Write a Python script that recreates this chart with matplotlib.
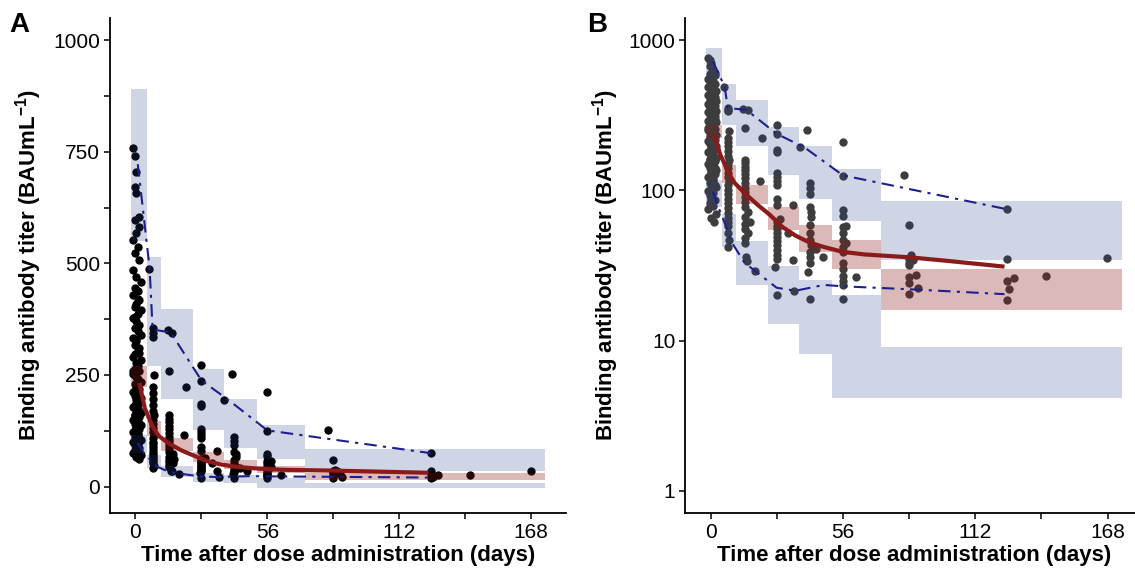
import matplotlib.pyplot as plt
from matplotlib.patches import Rectangle

plt.rcParams['font.family'] = ['Liberation Sans', 'DejaVu Sans']
plt.rcParams['mathtext.fontset'] = 'custom'
plt.rcParams['mathtext.rm'] = 'Liberation Sans'
plt.rcParams['mathtext.bf'] = 'Liberation Sans:bold'

# time bins (days)
bin_lo = [-2, 5, 10.8, 24.5, 37.6, 51.5, 72]
bin_hi = [5, 10.8, 24.5, 37.6, 51.5, 72, 174]

# simulated confidence intervals per bin
p95_lo = [550, 271, 197, 126, 87, 63, 34.3]
p95_hi = [890, 514, 398, 264, 197, 138, 84.9]
p50_lo = [223, 112.5, 80.7, 54.4, 39, 30.2, 15.9]
p50_hi = [271, 147.5, 108, 77.4, 59.3, 47, 30.1]
p05_lo = [77.4, 41.9, 23.6, 12.9, 8.15, 4.15, 4.15]
p05_hi = [116.6, 70, 46.4, 31.6, 25.5, 20, 9.08]
p05_lo_lin = [75, 41.9, 22, 11, 7.6, -3.6, -3.6]   # linear-scale panel

# observed data
obs_t = [
    # bin 1
    -1, -0.3, 0.4, -0.3, 0.4, 1.7, -0.3, 1.7, 0.4, -1, 1, -0.3, 1.7, -1, 0.4, 2.5, -0.3, 1, -1, 1.7,
    0.4, -0.3, 2.5, 1, -1, 0.4, 1.7, -0.3, 1, 2.5, -1, 0.4, -0.3, 1.7, 1, -0.3, -1, 2.5, 0.4, 1,
    -0.3, 1.7, -1, 0.4, 1, 2.5, -0.3, 0.4, 1.7, -1, 1, -0.3, 2.5, 0.4, 1.7, -0.3, -1, 1, 0.4, 2.5,
    -0.3, 1.7, 0.4, -1, 1, -0.3, 2.5, 0.4, 1.7, -0.3, -1, 1, 0.4, -0.3, 1.7, 2.5, 0.4, -1, 1, -0.3,
    0.4, 1.7, -0.3, 1, -1, 2.5, 0.4, 1.3,
    1, -0.3, 0.4, 1.7, -1, 1, 0.4, -0.3, 1.7, 1, -0.3, 0.4,
    # bin 2
    5.9, 7.3, 7.3, 7.3, 7.8, 7.3, 7.3, 7.6, 7.3, 7.3, 7.8, 7.3, 7.3, 7.3, 7.3, 7.8, 7.3,
    7.3, 7.3, 7.3, 7.6, 7.3, 7.3, 7.3, 7.3, 7.3, 7.6, 7.8, 7.3,
    # bin 3
    13.7, 15.7, 14.4, 21.6, 14.4, 14.4, 14.4, 14.4, 14.4, 14.4, 20.8, 14.4, 14.4, 14.4,
    14.4, 14.4, 14.4, 16, 14.4, 16.5, 14.4, 14.4, 16, 14.4, 14.4, 15, 15.5, 18.7,
    # bin 4
    28, 28, 28, 28, 28, 28, 28, 28, 28, 28, 29.5, 28, 28, 28, 28, 28, 28, 28, 28, 28,
    28, 27.3, 28, 34.8, 34.8, 35.5, 37.7, 32.6,
    # bin 5
    41, 41.9, 41.9, 41.9, 41.9, 42.5, 42.5, 41.9, 41.9, 41.9, 42.5, 41.9, 41.9, 41.9,
    41.3, 41.9, 47.4, 44.5,
    # bin 6
    56, 56, 56, 56, 57.5, 56, 56, 56, 56, 56, 56, 56, 56, 56, 56, 56, 61.7, 57.5,
    # bin 7
    81.7, 83.8, 84.9, 84, 85.5, 84, 83.8, 83.8, 86.8, 83.8, 87.7, 83.8,
    125.3, 125.3, 125.3, 128.4, 126.5, 125.3, 142, 167.9,
]
obs_y = [
    # bin 1
    758, 741, 705, 672, 658, 604, 596, 582, 567, 552, 537, 523, 507, 485, 470, 459, 445, 437, 428, 418,
    410, 402, 395, 386, 378, 370, 362, 355, 348, 340, 333, 326, 318, 311, 304, 297, 290, 284, 277, 270,
    264, 258, 252, 246, 240, 235, 229, 224, 218, 213, 208, 203, 198, 193, 188, 183, 179, 174, 170, 165,
    161, 157, 153, 149, 145, 141, 137, 133, 129, 126, 122, 119, 115, 112, 108, 105, 102, 99, 96, 93,
    90, 86, 82, 79, 75, 70, 66, 62,
    420, 380, 330, 300, 260, 215, 185, 160, 140, 118, 100, 88,
    # bin 2
    487, 355, 345, 335, 250, 224, 210, 196, 183, 170, 160, 150, 140, 131, 122, 115, 108,
    101, 95, 88, 82, 76, 71, 66, 62, 58, 52, 47, 42,
    # bin 3
    350, 345, 259, 224, 160, 152, 144, 136, 128, 120, 116, 112, 104, 97,
    90, 84, 78, 72, 67, 62, 60, 55, 52, 48, 45, 36, 34, 29,
    # bin 4
    272, 237, 185, 180, 130, 122, 115, 108, 88, 80, 65, 62, 58, 55, 52, 49, 46, 43, 40, 37,
    35, 31, 20, 80, 34.4, 21.5, 195, 52,
    # bin 5
    252, 112, 103, 94, 78, 72, 67, 59, 52, 47, 43, 39, 36, 33,
    28.6, 19, 36, 41,
    # bin 6
    211, 125, 74, 68, 58, 57, 52, 47, 42, 39, 33, 30, 27, 25, 23.5, 19, 26.7, 45,
    # bin 7
    126.6, 58.8, 37.2, 35, 34.5, 33, 32, 26.7, 27.4, 24.1, 22.3, 20.4,
    75.2, 35.1, 25, 26.3, 22, 18.7, 27, 35.7,
]

# observed median and percentile lines
med_t = [1.7, 4, 7.3, 10, 14.4, 20, 25, 30.5, 36, 41.9, 48, 56, 65, 84, 100, 124.4]
med_y = [232, 175, 134, 113, 96, 80, 69, 57, 50, 45, 42, 39, 37.5, 35.9, 34, 31.1]
up_t = [1, 6, 7.3, 15, 28, 40, 56, 125.3]
up_y = [722, 490, 352, 345, 238, 192, 126, 75]
lo_t = [1, 3.5, 7.3, 9, 14.4, 19, 28, 36, 48, 56, 84, 124.4]
lo_y = [98, 76, 54, 45, 33, 29, 22.5, 21.5, 23.5, 23, 22, 20.4]

blue = '#27408B'
red = '#8B1A1A'

fig = plt.figure(figsize=(11.35, 5.71), dpi=100)
H = 571.0
W = 1135.0
axA = fig.add_axes([110 / W, 58 / H, 456 / W, 495.3 / H])
axB = fig.add_axes([685 / W, 58 / H, 457.5 / W, 495.3 / H])


def draw(ax, pt_color, low5):
    ax.scatter(obs_t, obs_y, s=36, color=pt_color, linewidths=0, zorder=1)
    for i in range(len(bin_lo)):
        w = bin_hi[i] - bin_lo[i]
        ax.add_patch(Rectangle((bin_lo[i], p95_lo[i]), w, p95_hi[i] - p95_lo[i],
                               facecolor=blue, alpha=0.22, lw=0, zorder=2))
        ax.add_patch(Rectangle((bin_lo[i], low5[i]), w, p05_hi[i] - low5[i],
                               facecolor=blue, alpha=0.22, lw=0, zorder=2))
        ax.add_patch(Rectangle((bin_lo[i], p50_lo[i]), w, p50_hi[i] - p50_lo[i],
                               facecolor=red, alpha=0.3, lw=0, zorder=2))
    ax.plot(up_t, up_y, color='#1E1E8C', lw=1.5, dashes=(6, 3, 1.5, 3), zorder=3)
    ax.plot(lo_t, lo_y, color='#1E1E8C', lw=1.5, dashes=(6, 3, 1.5, 3), zorder=3)
    ax.plot(med_t, med_y, color=red, lw=3, solid_capstyle='butt', zorder=4)

    ax.set_xlim(-10.8, 182.8)
    ax.set_xticks([0, 28, 56, 84, 112, 140, 168])
    ax.set_xticklabels(['0', '', '56', '', '112', '', '168'])
    for s in ['top', 'right']:
        ax.spines[s].set_visible(False)
    for s in ['left', 'bottom']:
        ax.spines[s].set_linewidth(1.3)
    ax.tick_params(length=4, width=1.1, labelsize=15, colors='black', pad=3)
    ax.set_xlabel('Time after dose administration (days)', fontsize=16,
                  fontweight='bold', labelpad=2)
    ax.set_ylabel(r'Binding antibody titer (BAUmL$^{\mathbf{-1}}$)', fontsize=16,
                  fontweight='bold')


draw(axA, 'black', p05_lo_lin)
axA.set_ylim(-59, 1050)
axA.set_yticks([0, 125, 250, 375, 500, 625, 750, 875, 1000])
axA.set_yticklabels(['0', '', '250', '', '500', '', '750', '', '1000'])
axA.yaxis.set_label_coords(-0.145, 0.5)

draw(axB, '#3d3d3d', p05_lo)
axB.set_yscale('log')
axB.set_ylim(10 ** -0.1464, 10 ** 3.149)
axB.set_yticks([1, 10, 100, 1000])
axB.set_yticklabels(['1', '10', '100', '1000'])
axB.minorticks_off()
axB.yaxis.set_label_coords(-0.14, 0.5)

fig.text(19 / W, 1 - 25 / H, 'A', fontsize=20, fontweight='bold', ha='center', va='center')
fig.text(597 / W, 1 - 25 / H, 'B', fontsize=20, fontweight='bold', ha='center', va='center')

fig.savefig('out.png', dpi=100)
